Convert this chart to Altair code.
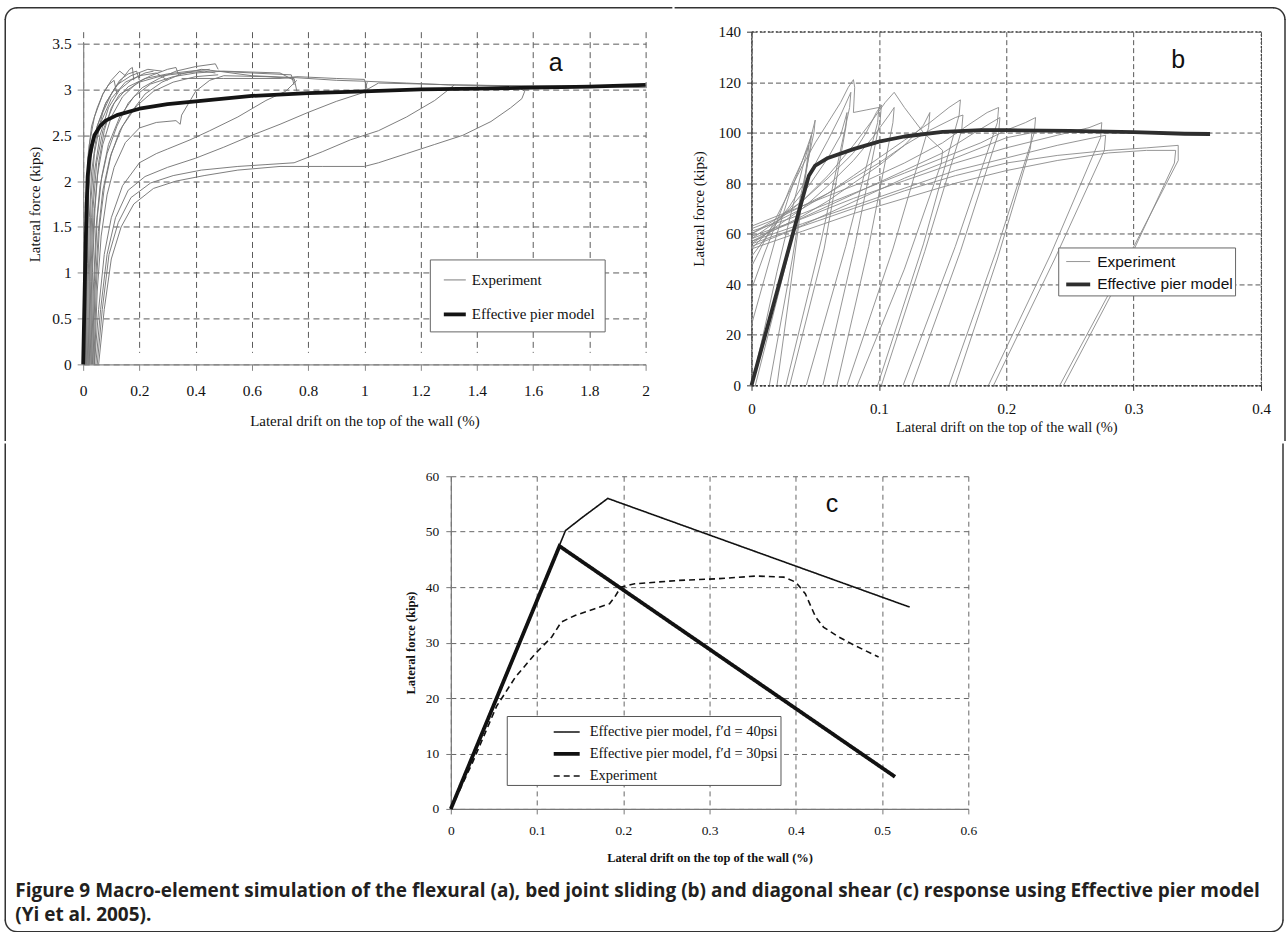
import altair as alt
import pandas as pd

# ---------------- Panel (a): flexural response ----------------
A_XTICKS = [0, 0.2, 0.4, 0.6, 0.8, 1, 1.2, 1.4, 1.6, 1.8, 2]
A_YTICKS = [0, 0.5, 1, 1.5, 2, 2.5, 3, 3.5]
A_SERIES = ["Experiment", "Effective pier model"]
A_MODEL_X = [0, 0.006, 0.012, 0.016, 0.022, 0.03, 0.04, 0.06, 0.08, 0.12, 0.2, 0.3, 0.4,
             0.5, 0.6, 0.8, 1.0, 1.2, 1.4, 1.6, 1.8, 2.0]
A_MODEL_Y = [0, 0.9, 1.7, 2.05, 2.25, 2.38, 2.5, 2.6, 2.66, 2.72, 2.79, 2.84, 2.87,
             2.9, 2.93, 2.96, 2.98, 3.0, 3.01, 3.02, 3.03, 3.05]
A_EXP = [
    [(0.010, 0), (0.012, 0.8), (0.015, 1.5), (0.020, 2.0), (0.030, 2.35), (0.050, 2.6), (0.080, 2.85),
     (0.110, 3.0), (0.140, 3.12), (0.165, 3.22), (0.175, 3.24), (0.180, 3.1)],
    [(0.015, 0), (0.018, 0.9), (0.022, 1.6), (0.030, 2.1), (0.045, 2.45), (0.070, 2.75), (0.100, 2.95),
     (0.130, 3.1), (0.160, 3.17), (0.190, 3.2), (0.200, 3.1)],
    [(0.005, 0), (0.008, 1.0), (0.012, 1.8), (0.018, 2.3), (0.030, 2.6), (0.050, 2.8), (0.070, 2.95),
     (0.090, 3.05), (0.110, 3.1), (0.120, 2.95)],
    [(0.008, 0), (0.010, 1.0), (0.014, 1.9), (0.022, 2.4), (0.040, 2.7), (0.070, 2.95), (0.100, 3.1),
     (0.130, 3.2), (0.150, 3.15)],
    [(0.012, 0), (0.015, 1.1), (0.020, 1.9), (0.030, 2.3), (0.050, 2.6), (0.080, 2.85), (0.120, 3.05),
     (0.170, 3.15), (0.230, 3.22), (0.280, 3.2)],
    [(0.018, 0), (0.022, 1.0), (0.028, 1.8), (0.040, 2.3), (0.060, 2.62), (0.100, 2.9), (0.150, 3.08),
     (0.200, 3.15), (0.260, 3.18), (0.300, 3.1)],
    [(0.020, 0), (0.024, 0.9), (0.030, 1.6), (0.040, 2.1), (0.060, 2.5), (0.090, 2.8), (0.130, 3.0),
     (0.170, 3.1), (0.220, 3.18), (0.250, 3.2)],
    [(0.022, 0), (0.027, 0.9), (0.035, 1.7), (0.048, 2.2), (0.070, 2.55), (0.110, 2.85), (0.160, 3.03),
     (0.220, 3.12), (0.300, 3.17), (0.380, 3.2), (0.450, 3.22)],
    [(0.025, 0), (0.030, 0.9), (0.038, 1.6), (0.050, 2.05), (0.070, 2.4), (0.100, 2.7), (0.140, 2.92),
     (0.190, 3.07), (0.240, 3.15), (0.300, 3.22), (0.330, 3.24), (0.340, 3.15)],
    [(0.028, 0), (0.033, 1.0), (0.042, 1.7), (0.055, 2.2), (0.075, 2.55), (0.100, 2.8), (0.130, 2.95),
     (0.160, 3.0), (0.200, 3.08), (0.280, 3.15), (0.360, 3.18), (0.430, 3.2), (0.470, 3.18)],
    [(0.030, 0), (0.036, 0.8), (0.046, 1.5), (0.060, 1.95), (0.085, 2.3), (0.120, 2.6), (0.160, 2.85),
     (0.210, 3.02), (0.270, 3.12), (0.330, 3.2), (0.400, 3.25), (0.470, 3.28), (0.480, 3.22)],
    [(0.033, 0), (0.040, 0.9), (0.050, 1.6), (0.066, 2.05), (0.090, 2.4), (0.130, 2.7), (0.180, 2.92),
     (0.240, 3.06), (0.320, 3.14), (0.400, 3.18), (0.500, 3.2), (0.700, 3.18), (0.750, 3.1)],
    [(0.035, 0), (0.042, 0.8), (0.054, 1.45), (0.070, 1.9), (0.095, 2.25), (0.130, 2.55), (0.170, 2.75),
     (0.220, 2.95), (0.280, 3.08), (0.350, 3.17), (0.420, 3.22), (0.480, 3.2), (0.600, 3.18),
     (0.740, 3.16), (0.750, 3.05)],
    [(0.038, 0), (0.046, 0.8), (0.058, 1.5), (0.076, 1.95), (0.100, 2.3), (0.140, 2.6), (0.190, 2.82),
     (0.250, 2.98), (0.320, 3.08), (0.400, 3.14), (0.480, 3.16)],
    [(0.040, 0), (0.050, 0.8), (0.064, 1.4), (0.085, 1.85), (0.110, 2.15), (0.150, 2.42), (0.200, 2.58),
     (0.260, 2.64), (0.330, 2.66), (0.345, 2.62), (0.350, 2.72), (0.400, 2.98), (0.450, 3.1),
     (0.500, 3.15), (0.650, 3.14), (0.750, 3.12), (0.760, 2.98)],
    [(0.040, 0), (0.055, 0.6), (0.075, 1.2), (0.100, 1.6), (0.140, 1.95), (0.200, 2.2), (0.260, 2.3),
     (0.300, 2.35), (0.380, 2.45), (0.450, 2.55), (0.550, 2.7), (0.650, 2.88), (0.720, 2.98), (0.760, 3.1)],
    [(0.045, 0), (0.062, 0.6), (0.085, 1.2), (0.115, 1.6), (0.160, 1.9), (0.220, 2.05), (0.300, 2.15),
     (0.400, 2.25), (0.500, 2.37), (0.600, 2.5), (0.700, 2.62), (0.800, 2.75), (0.900, 2.87),
     (1.000, 2.97), (1.010, 3.08)],
    [(0.050, 0), (0.068, 0.6), (0.092, 1.2), (0.125, 1.55), (0.170, 1.82), (0.240, 1.98), (0.320, 2.06),
     (0.420, 2.12), (0.550, 2.16), (0.650, 2.18), (0.750, 2.2), (0.850, 2.32), (0.950, 2.45),
     (1.050, 2.55), (1.150, 2.7), (1.250, 2.88), (1.300, 3.0), (1.320, 3.05)],
    [(0.055, 0), (0.075, 0.6), (0.100, 1.15), (0.135, 1.5), (0.180, 1.75), (0.250, 1.92), (0.330, 2.0),
     (0.430, 2.06), (0.550, 2.12), (0.700, 2.16), (0.850, 2.16), (1.000, 2.16), (1.050, 2.2),
     (1.150, 2.3), (1.250, 2.4), (1.350, 2.5), (1.450, 2.65), (1.520, 2.8), (1.560, 2.9),
     (1.570, 2.98), (1.550, 3.02)],
    [(0.480, 3.2), (0.600, 3.15), (0.750, 3.13), (0.900, 3.1), (1.000, 3.09), (1.150, 3.07),
     (1.300, 3.05), (1.500, 3.04), (1.700, 3.04), (2.000, 3.04)],
    [(0.350, 3.12), (0.500, 3.12), (0.700, 3.12), (0.760, 3.14), (0.900, 3.12), (1.000, 3.11),
     (1.010, 3.0), (1.050, 3.07), (1.200, 3.06), (1.320, 3.05), (1.550, 3.04), (1.800, 3.03), (2.000, 3.02)],
]

# ---------------- Panel (b): bed joint sliding ----------------
B_XTICKS = [0, 0.1, 0.2, 0.3, 0.4]
B_YTICKS = [0, 20, 40, 60, 80, 100, 120, 140]
B_SERIES = ["Experiment", "Effective pier model"]
B_MODEL_X = [0, 0.01, 0.02, 0.03, 0.04, 0.045, 0.05, 0.06, 0.08, 0.1, 0.12, 0.15, 0.18, 0.2,
             0.25, 0.3, 0.34, 0.36]
B_MODEL_Y = [0, 18.5, 37, 55.5, 74, 83, 87, 90, 93.5, 96.5, 98.5, 100.3, 101, 101,
             100.7, 100.2, 99.6, 99.5]
B_EXP = [
    [(0.000, 0), (0.010, 22), (0.020, 45), (0.030, 66), (0.040, 86), (0.046, 97), (0.050, 105),
     (0.049, 100), (0.029, 52), (0.003, 0)],
    [(0.000, 24), (0.010, 42), (0.020, 60), (0.030, 76), (0.040, 89), (0.047, 99),
     (0.046, 94), (0.032, 50), (0.014, 0)],
    [(0.000, 38), (0.010, 52), (0.020, 65), (0.030, 78), (0.040, 89), (0.045, 95),
     (0.044, 90), (0.033, 48), (0.020, 0)],
    [(0.000, 47), (0.010, 57), (0.020, 67), (0.030, 77), (0.040, 87), (0.050, 96), (0.060, 104),
     (0.070, 112), (0.076, 118), (0.080, 121), (0.081, 118), (0.080, 108), (0.090, 109), (0.100, 110),
     (0.099, 104), (0.074, 55), (0.043, 0)],
    [(0.000, 51), (0.015, 61), (0.030, 71), (0.045, 83), (0.060, 97), (0.070, 107), (0.078, 116),
     (0.077, 110), (0.055, 58), (0.027, 0)],
    [(0.000, 54), (0.015, 62), (0.030, 70), (0.045, 79), (0.060, 90), (0.070, 99), (0.075, 108),
     (0.074, 102), (0.057, 54), (0.030, 0)],
    [(0.000, 58), (0.020, 65), (0.040, 73), (0.060, 83), (0.080, 95), (0.095, 105), (0.105, 112),
     (0.112, 116), (0.120, 110), (0.135, 100), (0.150, 93), (0.149, 88), (0.120, 46), (0.083, 0)],
    [(0.000, 60), (0.020, 66), (0.040, 73), (0.060, 82), (0.080, 92), (0.090, 100), (0.098, 108),
     (0.102, 111), (0.101, 105), (0.081, 55), (0.056, 0)],
    [(0.000, 56), (0.020, 63), (0.040, 70), (0.060, 79), (0.080, 89), (0.095, 98), (0.108, 107),
     (0.112, 110), (0.111, 104), (0.092, 55), (0.067, 0)],
    [(0.000, 57), (0.020, 62), (0.040, 67), (0.060, 73), (0.080, 80), (0.100, 87), (0.120, 95),
     (0.135, 103), (0.140, 108), (0.139, 102), (0.111, 54), (0.075, 0)],
    [(0.000, 60), (0.020, 65), (0.040, 70), (0.060, 76), (0.080, 83), (0.100, 90), (0.120, 97),
     (0.140, 104), (0.155, 110), (0.164, 113), (0.163, 107), (0.135, 56), (0.099, 0)],
    [(0.000, 62), (0.020, 66), (0.040, 71), (0.060, 76), (0.080, 82), (0.100, 88), (0.120, 95),
     (0.140, 101), (0.160, 106), (0.166, 107), (0.165, 101), (0.136, 53), (0.102, 0)],
    [(0.000, 63), (0.030, 69), (0.060, 75), (0.090, 81), (0.120, 88), (0.150, 96), (0.170, 103),
     (0.185, 108), (0.194, 110), (0.193, 104), (0.160, 55), (0.119, 0)],
    [(0.000, 58), (0.030, 64), (0.060, 71), (0.090, 78), (0.120, 85), (0.150, 92), (0.175, 100),
     (0.195, 106), (0.194, 100), (0.164, 53), (0.126, 0)],
    [(0.000, 61), (0.030, 66), (0.060, 72), (0.090, 78), (0.120, 84), (0.150, 90), (0.180, 96),
     (0.200, 101), (0.215, 104), (0.223, 106), (0.222, 100), (0.192, 53), (0.155, 0)],
    [(0.000, 55), (0.030, 61), (0.060, 68), (0.090, 75), (0.120, 82), (0.150, 88), (0.180, 94),
     (0.200, 98), (0.220, 100), (0.219, 94), (0.193, 50), (0.160, 0)],
    [(0.000, 59), (0.040, 66), (0.080, 74), (0.120, 81), (0.160, 88), (0.200, 94), (0.240, 99),
     (0.265, 102), (0.275, 104), (0.274, 98), (0.235, 52), (0.186, 0)],
    [(0.000, 57), (0.040, 64), (0.080, 71), (0.120, 78), (0.160, 85), (0.200, 90), (0.240, 95),
     (0.278, 99), (0.277, 93), (0.238, 50), (0.190, 0)],
    [(0.000, 56), (0.040, 63), (0.080, 70), (0.120, 77), (0.160, 83), (0.200, 88), (0.240, 91),
     (0.280, 93), (0.310, 94), (0.335, 95), (0.335, 89), (0.293, 48), (0.242, 0)],
    [(0.000, 54), (0.040, 61), (0.080, 68), (0.120, 74), (0.160, 80), (0.200, 85), (0.240, 89),
     (0.280, 92), (0.310, 93), (0.333, 93), (0.332, 88), (0.294, 47), (0.245, 0)],
]

# ---------------- Panel (c): diagonal shear ----------------
C_XTICKS = [0, 0.1, 0.2, 0.3, 0.4, 0.5, 0.6]
C_YTICKS = [0, 10, 20, 30, 40, 50, 60]
C_SERIES = ["Effective pier model, f\u2032d = 40psi",
            "Effective pier model, f\u2032d = 30psi",
            "Experiment"]
C_M40_X = [0, 0.133, 0.151, 0.182, 0.532]
C_M40_Y = [0, 50.2, 52.4, 56.0, 36.4]
C_M30_X = [0, 0.126, 0.515]
C_M30_Y = [0, 47.4, 5.8]
C_EXP_X = [0, 0.025, 0.053, 0.075, 0.098, 0.117, 0.128, 0.144, 0.167, 0.184, 0.19, 0.197, 0.213,
           0.263, 0.308, 0.354, 0.386, 0.4, 0.411, 0.423, 0.432, 0.45, 0.468, 0.496]
C_EXP_Y = [0, 8.3, 18.5, 23.8, 28, 31, 33.7, 34.9, 36.1, 37, 38.2, 40, 40.6,
           41.2, 41.5, 42, 41.8, 40.9, 38.8, 34.6, 32.8, 31, 29.5, 27.4]

PANEL_LABELS = {"a": (1.68, 3.29), "b": (0.335, 128.8), "c": (0.442, 55.0)}
AXIS_X_TITLE = "Lateral drift on the top of the wall (%)"
AXIS_Y_TITLE = "Lateral force (kips)"
CAPTION = ["Figure 9 Macro-element simulation of the flexural (a), bed joint sliding (b) and diagonal "
           "shear (c) response using Effective pier model",
           "(Yi et al. 2005)."]

SERIF = "Liberation Serif"
SANS = "Liberation Sans"
FRAME = "#333333"
LABEL_EXPR = "'' + datum.value"
R = 12  # corner radius of the figure frame


def curves_frame(curves, series, prefix):
    rows = []
    for k, pts in enumerate(curves):
        for i, (x, y) in enumerate(pts):
            rows.append({"cid": f"{prefix}{k}", "i": i, "x": x, "y": y, "series": series})
    return rows


def model_frame(xs, ys, series, cid):
    return [{"cid": cid, "i": i, "x": x, "y": y, "series": series}
            for i, (x, y) in enumerate(zip(xs, ys))]


def one():
    return pd.DataFrame({"k": [0]})


def label_chart(key):
    x, y = PANEL_LABELS[key]
    return alt.Chart(pd.DataFrame({"x": [x], "y": [y], "t": [key]})).mark_text(
        font=SANS, fontSize=25, color="#111", baseline="middle", align="center"
    ).encode(x="x:Q", y="y:Q", text="t:N")


def frame_rule(x1, y1, x2, y2):
    return alt.Chart(one()).mark_rule(color=FRAME, strokeWidth=1.5, strokeCap="square").encode(
        x=alt.value(x1), y=alt.value(y1), x2=alt.value(x2), y2=alt.value(y2))


def frame_corner(cx, cy, t1, t2):
    return alt.Chart(one()).mark_arc(color=FRAME, radius=R + 0.75, radius2=R - 0.75,
                                     theta=t1, theta2=t2).encode(x=alt.value(cx), y=alt.value(cy))


def cell_box(x1, y1, x2, y2):
    # invisible box that fixes the space each panel takes in the figure
    return alt.Chart(one()).mark_rect(opacity=0).encode(
        x=alt.value(x1), y=alt.value(y1), x2=alt.value(x2), y2=alt.value(y2))


def axis(values, title, label_size, title_size, title_weight, label_pad, title_pad,
         grid_dash, grid_color, dom_color, dom_dash=None, tick=6, offset=None):
    kw = dict(values=values, labelExpr=LABEL_EXPR, title=title, grid=True, gridDash=grid_dash,
              gridColor=grid_color, gridWidth=1, domainColor=dom_color, domainWidth=1.2,
              tickColor=dom_color, tickSize=tick, labelFont=SERIF, labelFontSize=label_size,
              labelColor="#111", labelPadding=label_pad, labelFlush=False, titleFont=SERIF,
              titleFontSize=title_size, titleFontWeight=title_weight, titleColor="#111",
              titlePadding=title_pad)
    if dom_dash:
        kw["domainDash"] = dom_dash
    if offset is not None:
        kw["offset"] = offset
    return alt.Axis(**kw)


# ---------- chart a (group origin at page 82,30; plot spans y 42..363) ----------
a_df = pd.DataFrame(curves_frame(A_EXP, A_SERIES[0], "ae")
                    + model_frame(A_MODEL_X, A_MODEL_Y, A_SERIES[1], "am"))
a_legend = alt.Legend(orient="none", legendX=347, legendY=228, title=None, padding=9,
                      rowPadding=13, symbolType="stroke", symbolSize=484, symbolOffset=3,
                      labelFont=SERIF, labelFontSize=15, labelColor="#111", labelOffset=4,
                      strokeColor="#666", fillColor="white", labelLimit=300)
a_lines = alt.Chart(a_df).mark_line(strokeJoin="round").encode(
    x=alt.X("x:Q", scale=alt.Scale(domain=[0, 2], nice=False, zero=False),
            axis=axis(A_XTICKS, AXIS_X_TITLE, 15.5, 15, "normal", 13, 15, [6, 4], "#5a5a5a", "#888")),
    y=alt.Y("y:Q", scale=alt.Scale(domain=[0, 3.5], nice=False, range=[333, 12]),
            axis=axis(A_YTICKS, AXIS_Y_TITLE, 15.5, 15, "normal", 6, 9, [6, 4], "#5a5a5a", "#888")),
    detail="cid:N",
    order="i:Q",
    color=alt.Color("series:N", scale=alt.Scale(domain=A_SERIES, range=["#777777", "#141414"]),
                    legend=a_legend),
    strokeWidth=alt.StrokeWidth("series:N", scale=alt.Scale(type="ordinal", domain=A_SERIES,
                                                           range=[0.95, 3.8]), legend=a_legend),
)
a_chart = alt.layer(
    cell_box(-78, -24, 590, 410),
    frame_rule(-78, -24 + R, -78, 409),
    frame_rule(-78 + R, -24, 589, -24),
    frame_corner(-78 + R, -24 + R, 4.7124, 6.2832),
    a_lines,
    label_chart("a"),
).properties(width=563, height=333)

# ---------- chart b (group origin at page 749,30) ----------
b_df = pd.DataFrame(curves_frame(B_EXP, B_SERIES[0], "be")
                    + model_frame(B_MODEL_X, B_MODEL_Y, B_SERIES[1], "bm"))
b_legend = alt.Legend(orient="none", legendX=307, legendY=216, title=None, padding=1.6,
                      rowPadding=0.4, symbolType="stroke", symbolSize=576, symbolOffset=4.4,
                      labelFont=SANS, labelFontSize=15.5, labelColor="#111", labelOffset=5,
                      strokeColor="#666", fillColor="white", labelLimit=300)
b_lines = alt.Chart(b_df).mark_line(strokeJoin="round").encode(
    x=alt.X("x:Q", scale=alt.Scale(domain=[0, 0.4], nice=False, zero=False),
            axis=axis(B_XTICKS, AXIS_X_TITLE, 15, 14.5, "normal", 11.5, 4, [5, 3], "#555", "#333",
                      dom_dash=[2, 2], tick=5)),
    y=alt.Y("y:Q", scale=alt.Scale(domain=[0, 140], nice=False),
            axis=axis(B_YTICKS, AXIS_Y_TITLE, 15, 15, "normal", 6, 12, [5, 3], "#555", "#333",
                      dom_dash=[2, 2], tick=5)),
    detail="cid:N",
    order="i:Q",
    color=alt.Color("series:N", scale=alt.Scale(domain=B_SERIES, range=["#8a8a8a", "#2e2e2e"]),
                    legend=b_legend),
    strokeWidth=alt.StrokeWidth("series:N", scale=alt.Scale(type="ordinal", domain=B_SERIES,
                                                           range=[0.9, 3.8]), legend=b_legend),
)
b_chart = alt.layer(
    cell_box(-77, -24, 535, 410),
    frame_rule(-76.25, -24, 534 - R, -24),
    frame_rule(534, -24 + R, 534, 409),
    frame_corner(534 - R, -24 + R, 0, 1.5708),
    b_lines,
    label_chart("b"),
).properties(width=510, height=354,
             view=alt.ViewBackground(stroke="#333", strokeDash=[2, 2], strokeWidth=1.2))

# ---------- chart c (group origin at page 82,473; plot spans x 450..968) ----------
c_df = pd.DataFrame(model_frame(C_M40_X, C_M40_Y, C_SERIES[0], "c40")
                    + model_frame(C_M30_X, C_M30_Y, C_SERIES[1], "c30")
                    + model_frame(C_EXP_X, C_EXP_Y, C_SERIES[2], "cex"))
c_legend = alt.Legend(orient="none", legendX=424, legendY=240, title=None, padding=2,
                      rowPadding=-0.5, symbolType="stroke", symbolSize=676, symbolOffset=43,
                      labelFont=SERIF, labelFontSize=14.5, labelColor="#111", labelOffset=8,
                      strokeColor="#555", fillColor="white", labelLimit=400)
c_lines = alt.Chart(c_df).mark_line(strokeJoin="miter").encode(
    x=alt.X("x:Q", scale=alt.Scale(domain=[0, 0.6], nice=False, zero=False, range=[368, 886]),
            axis=axis(C_XTICKS, AXIS_X_TITLE, 13.5, 12.5, "bold", 10, 14, [5, 4], "#666", "#777",
                      tick=5)),
    y=alt.Y("y:Q", scale=alt.Scale(domain=[0, 60], nice=False),
            axis=axis(C_YTICKS, AXIS_Y_TITLE, 13.5, 12.5, "bold", 7, 8, [5, 4], "#666", "#777",
                      tick=5, offset=-368)),
    detail="cid:N",
    order="i:Q",
    color=alt.Color("series:N", scale=alt.Scale(domain=C_SERIES, range=["#111", "#111", "#111"]),
                    legend=c_legend),
    strokeWidth=alt.StrokeWidth("series:N", scale=alt.Scale(type="ordinal", domain=C_SERIES,
                                                           range=[1.6, 3.8, 1.6]), legend=c_legend),
    strokeDash=alt.StrokeDash("series:N", scale=alt.Scale(domain=C_SERIES,
                                                         range=[[1, 0], [1, 0], [6, 4]]),
                              legend=c_legend),
)


def caption_line(text, y):
    return alt.Chart(pd.DataFrame({"t": [text]})).mark_text(
        align="left", baseline="alphabetic", font="Open Sans", fontSize=19, fontWeight="bold",
        color="#231f20").encode(text="t:N", x=alt.value(-68), y=alt.value(y))


c_chart = alt.layer(
    cell_box(-78, -33, 1202, 457),
    frame_rule(-78, -32, -78, 456 - R),
    frame_rule(1201, -32, 1201, 456 - R),
    frame_rule(-78 + R, 456, 1201 - R, 456),
    frame_corner(-78 + R, 456 - R, 3.1416, 4.7124),
    frame_corner(1201 - R, 456 - R, 1.5708, 3.1416),
    c_lines,
    label_chart("c"),
    caption_line(CAPTION[0], 421),
    caption_line(CAPTION[1], 445),
).properties(width=886, height=333)

# ---------- layout ----------
row1 = alt.hconcat(a_chart, b_chart, spacing=0).resolve_scale(
    color="independent", strokeWidth="independent")

chart = alt.vconcat(row1, c_chart, spacing=0).resolve_scale(
    color="independent", strokeWidth="independent", strokeDash="independent"
).properties(
    padding={"left": 3.25, "top": 5.25, "right": 0, "bottom": 0},
    background="white",
).configure_view(stroke=None)

chart.save("out.html", embed_options={"renderer": "svg", "actions": False})
